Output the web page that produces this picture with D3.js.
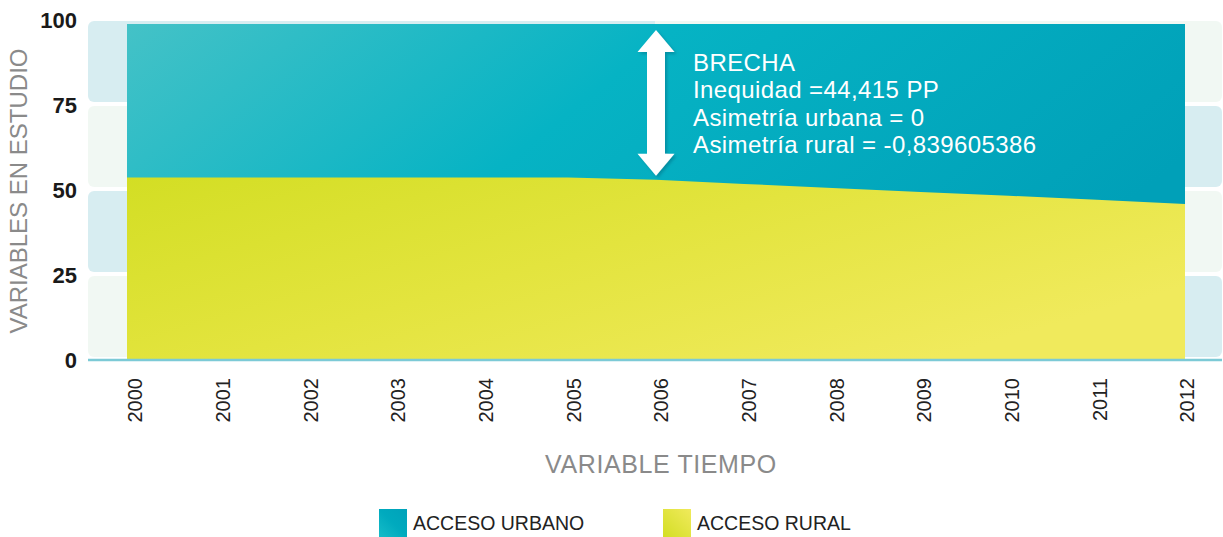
<!DOCTYPE html>
<html>
<head>
<meta charset="utf-8">
<script src="https://cdn.jsdelivr.net/npm/d3@7"></script>
<style>
  body { margin: 0; background: #fff; }
  svg { display: block; font-family: "Liberation Sans", Arial, sans-serif; }
</style>
</head>
<body>
<div id="chart"></div>
<script>
// data
const years = [2000, 2001, 2002, 2003, 2004, 2005, 2006, 2007, 2008, 2009, 2010, 2011, 2012];
const urbano = [98.8, 98.8, 98.8, 98.8, 98.8, 98.8, 98.8, 98.8, 98.8, 98.8, 98.8, 98.8, 98.8];
const rural = [53.7, 53.7, 53.7, 53.7, 53.7, 53.7, 53.0, 51.8, 50.6, 49.4, 48.3, 47.1, 45.9];
const yTicks = [0, 25, 50, 75, 100];
const brechaYear = 2006;
const brechaLines = ["BRECHA", "Inequidad =44,415 PP", "Asimetría urbana = 0", "Asimetría rural = -0,839605386"];
const legendItems = ["ACCESO URBANO", "ACCESO RURAL"];

const width = 1223, height = 537;

const svg = d3.select("#chart").append("svg")
  .attr("width", width)
  .attr("height", height);

const x = d3.scaleLinear().domain([2000, 2012]).range([127, 1185]);
const xLabel = d3.scaleLinear().domain([2000, 2012]).range([135, 1187]);
const y = d3.scaleLinear().domain([0, 100]).range([360, 20]);

const defs = svg.append("defs");

function addGradient(id, x1, y1, x2, y2, stops) {
  const g = defs.append("linearGradient").attr("id", id)
    .attr("x1", x1).attr("y1", y1).attr("x2", x2).attr("y2", y2);
  stops.forEach(s => g.append("stop").attr("offset", s[0]).attr("stop-color", s[1]));
}

addGradient("gUrb", "0%", "0%", "100%", "40%", [[0, "#44c2c7"], [0.45, "#06b3c4"], [1, "#00a0b8"]]);
addGradient("gRur", "0%", "0%", "100%", "60%", [[0, "#d3de24"], [0.5, "#e3e43e"], [1, "#f0ea5c"]]);
addGradient("gUrbSw", "0%", "100%", "100%", "0%", [[0, "#16bcc8"], [0.5, "#00aabe"], [1, "#00a2ba"]]);
addGradient("gRurSw", "0%", "100%", "100%", "0%", [[0, "#d3de24"], [1, "#f0ea5c"]]);
// bands: colour switches between the left and right side
addGradient("bandA", "0%", "0%", "100%", "0%", [[0, "#d7edf1"], [0.5, "#d7edf1"], [0.5, "#f1f8f3"], [1, "#f1f8f3"]]);
addGradient("bandB", "0%", "0%", "100%", "0%", [[0, "#f1f8f3"], [0.5, "#f1f8f3"], [0.5, "#d7edf1"], [1, "#d7edf1"]]);

const shadow = defs.append("filter").attr("id", "shadow")
  .attr("x", "-50%").attr("y", "-10%").attr("width", "200%").attr("height", "120%");
shadow.append("feDropShadow")
  .attr("dx", 2).attr("dy", 2).attr("stdDeviation", 1.5)
  .attr("flood-color", "#00667c").attr("flood-opacity", 0.45);

// background bands
const bands = [75, 50, 25, 0];
svg.append("g").selectAll("rect")
  .data(bands)
  .enter()
  .append("rect")
  .attr("x", 88)
  .attr("y", d => y(d + 25) + 1)
  .attr("width", 1222 - 88)
  .attr("height", d => (y(d) - 3) - (y(d + 25) + 1))
  .attr("rx", 6)
  .attr("fill", (d, i) => i % 2 === 0 ? "url(#bandA)" : "url(#bandB)");

// areas
const rows = years.map((yr, i) => ({ year: yr, urbano: urbano[i], rural: rural[i] }));

svg.append("path")
  .datum(rows)
  .attr("fill", "url(#gUrb)")
  .attr("d", d3.area().x(d => x(d.year)).y0(y(0)).y1(d => y(d.urbano)));

svg.append("path")
  .datum(rows)
  .attr("fill", "url(#gRur)")
  .attr("d", d3.area().x(d => x(d.year)).y0(y(0)).y1(d => y(d.rural)));

// baseline
svg.append("line")
  .attr("x1", 88).attr("x2", 1222)
  .attr("y1", y(0)).attr("y2", y(0))
  .attr("stroke", "#7ccad6")
  .attr("stroke-width", 2.5);

// y tick labels
svg.append("g").selectAll("text")
  .data(yTicks)
  .enter()
  .append("text")
  .attr("x", 77)
  .attr("y", d => y(d))
  .attr("dy", "0.36em")
  .attr("text-anchor", "end")
  .attr("font-size", "22px")
  .attr("font-weight", "bold")
  .attr("fill", "#1a1a1a")
  .text(d => d);

// x tick labels, rotated
svg.append("g").selectAll("text")
  .data(years)
  .enter()
  .append("text")
  .attr("transform", d => `translate(${xLabel(d)},378) rotate(-90)`)
  .attr("dy", "0.36em")
  .attr("text-anchor", "end")
  .attr("font-size", "20px")
  .attr("fill", "#222")
  .text(d => d);

// axis titles
svg.append("text")
  .attr("x", 661).attr("y", 473)
  .attr("text-anchor", "middle")
  .attr("font-size", "25px")
  .attr("letter-spacing", "0.6px")
  .attr("fill", "#8a8a8a")
  .text("VARIABLE TIEMPO");

svg.append("text")
  .attr("transform", "translate(18,191) rotate(-90)")
  .attr("dy", "0.36em")
  .attr("text-anchor", "middle")
  .attr("font-size", "24px")
  .attr("fill", "#8a8a8a")
  .text("VARIABLES EN ESTUDIO");

// brecha arrow
const bi = years.indexOf(brechaYear);
const ax = x(brechaYear);
const arrowTop = y(urbano[bi]) + 6;
const arrowBot = y(rural[bi]) - 4;
const hw = 18.5, hh = 22, sw = 9;
const arrowPts = [
  [ax, arrowTop], [ax + hw, arrowTop + hh], [ax + sw, arrowTop + hh], [ax + sw, arrowBot - hh], [ax + hw, arrowBot - hh],
  [ax, arrowBot], [ax - hw, arrowBot - hh], [ax - sw, arrowBot - hh], [ax - sw, arrowTop + hh], [ax - hw, arrowTop + hh]
];
svg.append("path")
  .attr("d", d3.line()(arrowPts) + "Z")
  .attr("fill", "#fff")
  .attr("filter", "url(#shadow)");

svg.append("g").selectAll("text")
  .data(brechaLines)
  .enter()
  .append("text")
  .attr("x", ax + 37)
  .attr("y", (d, i) => 71 + i * 27.4)
  .attr("font-size", "24px")
  .attr("letter-spacing", "0.4px")
  .attr("fill", "#fff")
  .text(d => d);

// legend
const legend = svg.append("g").selectAll("g")
  .data(legendItems)
  .enter()
  .append("g")
  .attr("transform", (d, i) => `translate(${379 + i * 284},509)`);

legend.append("rect")
  .attr("width", 28).attr("height", 28)
  .attr("fill", (d, i) => i === 0 ? "url(#gUrbSw)" : "url(#gRurSw)");

legend.append("text")
  .attr("x", 34).attr("y", 21)
  .attr("font-size", "19.5px")
  .attr("fill", "#222")
  .text(d => d);
</script>
</body>
</html>
